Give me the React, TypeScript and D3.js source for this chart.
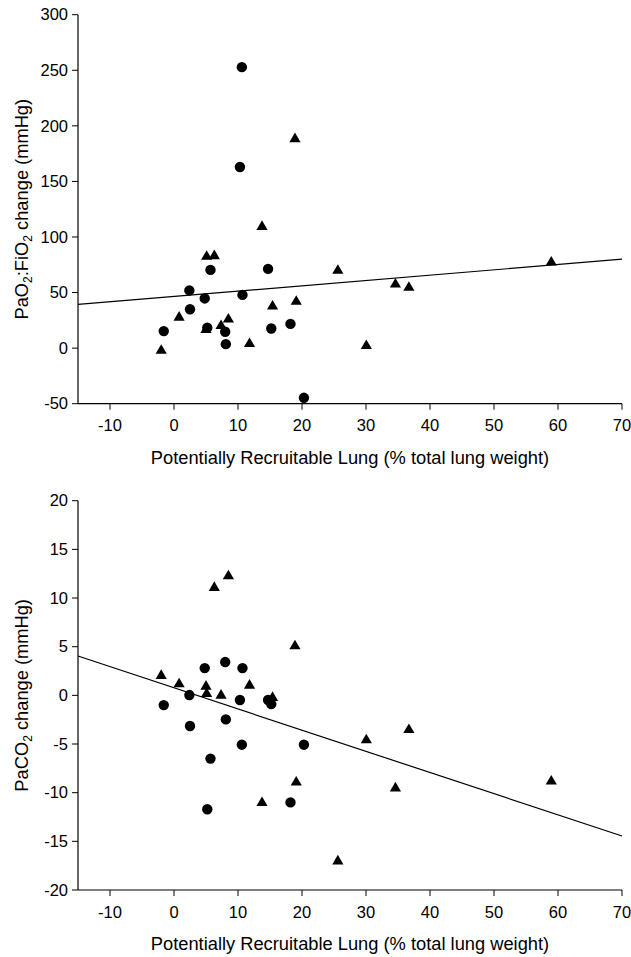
import React from "react";
import { scaleLinear, range } from "d3";

// shared x values (potentially recruitable lung, % total lung weight)
const circleX = [-1.6, 2.4, 2.5, 4.8, 5.2, 5.7, 8.0, 8.1, 10.3, 10.6, 10.7, 14.7, 15.2, 18.2, 20.3];
const triangleX = [-2.0, 0.8, 5.0, 5.1, 6.3, 7.35, 8.5, 11.8, 13.75, 15.4, 18.9, 19.1, 25.6, 30.05, 34.6, 36.7, 58.95];

// PaO2:FiO2 change
const pfCircleY = [15.3, 51.9, 35, 44.7, 18.3, 70.4, 14.7, 3.6, 163, 252.8, 47.9, 71.3, 17.7, 21.8, -44.7];
const pfTriangleY = [-0.9, 28.8, 17.7, 83.6, 84.2, 21.3, 27.2, 5.1, 110.5, 38.9, 189.4, 43.1, 71, 3.3, 58.7, 55.7, 78.5];

// PaCO2 change
const co2CircleY = [-1.0, 0.03, -3.15, 2.8, -11.7, -6.5, 3.42, -2.47, -0.48, -5.07, 2.8, -0.48, -0.9, -11.0, -5.07];
const co2TriangleY = [2.16, 1.3, 1.06, 0.3, 11.2, 0.13, 12.4, 1.16, -10.9, -0.1, 5.2, -8.8, -16.9, -4.45, -9.4, -3.4, -8.7];

// regression lines (intercept, slope)
const pfFit = [46.5, 0.479];
const co2Fit = [0.775, -0.2176];

const xTicks = range(-10, 71, 10);
const pfTicks = range(-50, 301, 50);
const co2Ticks = range(-20, 21, 5);

const font = "'Liberation Sans', Arial, sans-serif";
const left = 78,
  right = 622;

function Panel({ top, bottom, yDomain, yTicks, circlesY, trianglesY, fit, label }) {
  const x = scaleLinear().domain([-15, 70]).range([left, right]);
  const y = scaleLinear().domain(yDomain).range([bottom, top]);
  const line = (v) => fit[0] + fit[1] * v;
  const tri = "M0,-5L5.6,4.6L-5.6,4.6Z";
  return (
    <g fontFamily={font} fill="#000">
      {/* axes */}
      <line x1={left} x2={left} y1={top} y2={bottom} stroke="#000" strokeWidth={1.2} />
      <line x1={left} x2={right} y1={bottom} y2={bottom} stroke="#000" strokeWidth={1.2} />
      {yTicks.map((t) => (
        <g key={t} transform={`translate(${left},${y(t)})`}>
          <line x1={-6} x2={0} stroke="#000" />
          <text x={-10} dy="0.35em" textAnchor="end" fontSize={16.5}>
            {t}
          </text>
        </g>
      ))}
      {xTicks.map((t) => (
        <g key={t} transform={`translate(${x(t)},${bottom})`}>
          <line y1={0} y2={6} stroke="#000" />
          <text y={22} dy="0.35em" textAnchor="middle" fontSize={16.5}>
            {t}
          </text>
        </g>
      ))}
      <line x1={x(-15)} y1={y(line(-15))} x2={x(70)} y2={y(line(70))} stroke="#000" strokeWidth={1.2} />
      {triangleX.map((v, i) => (
        <path key={"t" + i} d={tri} transform={`translate(${x(v)},${y(trianglesY[i])})`} />
      ))}
      {circleX.map((v, i) => (
        <circle key={"c" + i} cx={x(v)} cy={y(circlesY[i])} r={5.2} />
      ))}
      <text x={(left + right) / 2} y={bottom + 54} dy="0.35em" textAnchor="middle" fontSize={18.3}>
        Potentially Recruitable Lung (% total lung weight)
      </text>
      <text
        transform={`translate(22,${(top + bottom) / 2}) rotate(-90)`}
        dy="0.35em"
        textAnchor="middle"
        fontSize={18.3}
      >
        {label}
      </text>
    </g>
  );
}

const pfLabel = (
  <>
    PaO<tspan dy="4" fontSize={12}>2</tspan>
    <tspan dy="-4">:FiO</tspan>
    <tspan dy="4" fontSize={12}>2</tspan>
    <tspan dy="-4"> change (mmHg)</tspan>
  </>
);
const co2Label = (
  <>
    PaCO<tspan dy="4" fontSize={12}>2</tspan>
    <tspan dy="-4"> change (mmHg)</tspan>
  </>
);

export default function App() {
  return (
    <svg width={631} height={957} style={{ position: "absolute", left: 0, top: 0, background: "#fff" }}>
      <Panel
        top={14.7}
        bottom={403.7}
        yDomain={[-50, 300]}
        yTicks={pfTicks}
        circlesY={pfCircleY}
        trianglesY={pfTriangleY}
        fit={pfFit}
        label={pfLabel}
      />
      <Panel
        top={500.7}
        bottom={890}
        yDomain={[-20, 20]}
        yTicks={co2Ticks}
        circlesY={co2CircleY}
        trianglesY={co2TriangleY}
        fit={co2Fit}
        label={co2Label}
      />
    </svg>
  );
}
